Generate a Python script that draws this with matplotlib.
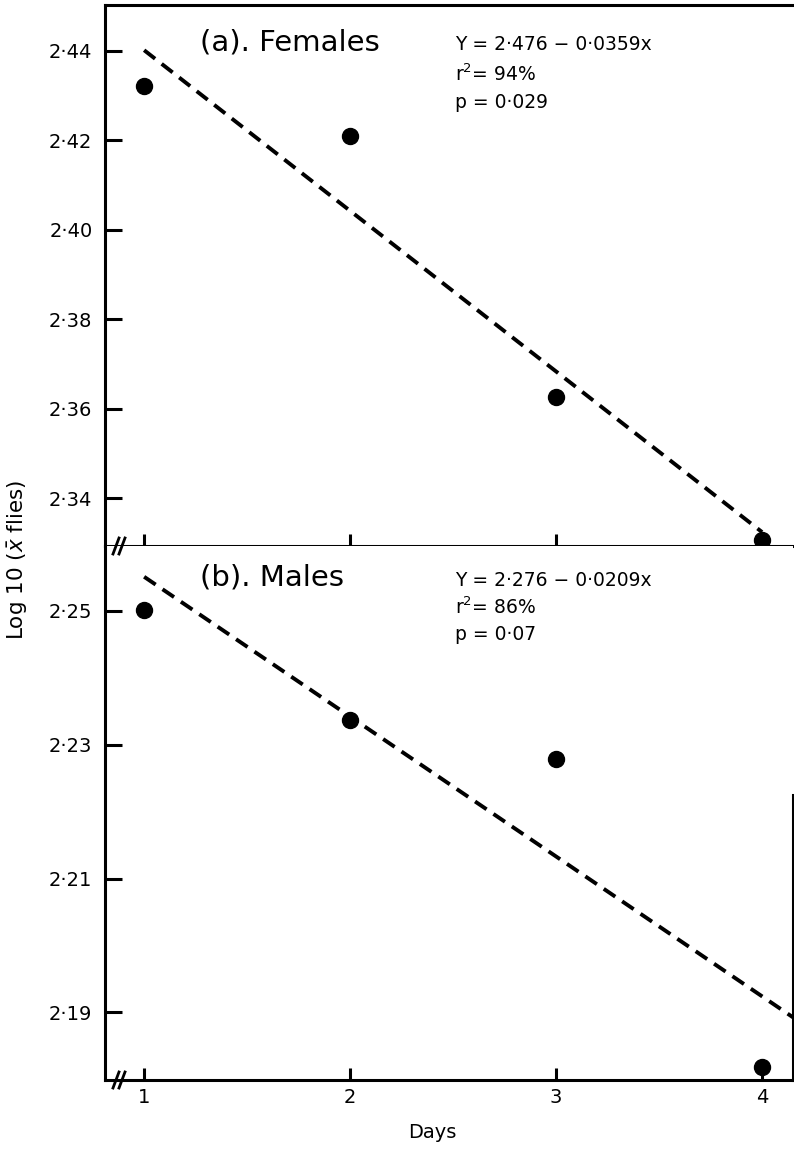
import matplotlib
matplotlib.use("Agg")
import matplotlib.pyplot as plt
from matplotlib.ticker import FuncFormatter, FixedLocator
import numpy as np

plt.rcParams['font.family'] = ['DejaVu Sans']
plt.rcParams['lines.scale_dashes'] = False

# ---- data ----
days = [1, 2, 3, 4]
female_log = [2.432, 2.421, 2.3625, 2.3306]
male_log = [2.2502, 2.2337, 2.2278, 2.1818]

female_intercept, female_slope = 2.476, -0.0359
male_intercept, male_slope = 2.276, -0.0209
female_fit_x = [1, 4]
male_fit_x = [1, 4.15]

female_yticks = [2.34, 2.36, 2.38, 2.40, 2.42, 2.44]
male_yticks = [2.19, 2.21, 2.23, 2.25]

female_text = ["Y = 2·476 − 0·0359x", "r$^2$= 94%", "p = 0·029"]
male_text = ["Y = 2·276 − 0·0209x", "r$^2$= 86%", "p = 0·07"]

W, H = 794, 1157
fig = plt.figure(figsize=(W / 100, H / 100), dpi=100)

left = 105 / W
right = 793 / W
mid = 1 - 546 / H
top = 1 - 5 / H
bot = 1 - 1080 / H

ax1 = fig.add_axes([left, mid, right - left, top - mid])
ax2 = fig.add_axes([left, bot, right - left, mid - bot])

fmt = FuncFormatter(lambda v, p: f"{v:.2f}".replace('.', '·'))
xlim = (0.81, 4.15)

for ax in (ax1, ax2):
    ax.set_xlim(*xlim)
    ax.xaxis.set_major_locator(FixedLocator(days))
    ax.yaxis.set_major_formatter(fmt)
    ax.tick_params(axis='y', direction='in', length=12, width=2.2, pad=9,
                   labelsize=14)
    ax.tick_params(axis='x', direction='in', length=9, width=2.2, pad=6,
                   labelsize=14)
    for s in ax.spines.values():
        s.set_linewidth(2.2)
    ax.spines['right'].set_visible(False)

# top panel
ax1.set_ylim(2.3293, 2.4502)
ax1.yaxis.set_major_locator(FixedLocator(female_yticks))
ax1.tick_params(axis='x', labelbottom=False)
ax1.plot(days, female_log, 'o', color='black', markersize=11.5, zorder=5,
         clip_on=False)
fx = np.array(female_fit_x)
ax1.plot(fx, female_intercept + female_slope * fx, color='black', lw=2.8,
         dashes=(10, 6), clip_on=False)
ax1.text(200 / W, 1 - 43 / H, "(a). Females", transform=fig.transFigure,
         fontsize=21, va='center', ha='left')
for i, t in enumerate(female_text):
    ax1.text(455 / W, 1 - (45 + 29 * i) / H, t, transform=fig.transFigure,
             fontsize=13.5, va='center', ha='left')

# bottom panel
ax2.set_ylim(2.1799, 2.2597)
ax2.yaxis.set_major_locator(FixedLocator(male_yticks))
ax2.spines['top'].set_visible(False)
ax2.spines['right'].set_visible(True)
ax2.spines['right'].set_bounds(2.1799, 2.2225)
ax2.plot(days, male_log, 'o', color='black', markersize=11.5, zorder=5,
         clip_on=False)
mx = np.array(male_fit_x)
ax2.plot(mx, male_intercept + male_slope * mx, color='black', lw=2.8,
         dashes=(10, 6), clip_on=False)
ax2.text(200 / W, 1 - 578 / H, "(b). Males", transform=fig.transFigure,
         fontsize=21, va='center', ha='left')
for i, t in enumerate(male_text):
    ax2.text(455 / W, 1 - (580 + 27 * i) / H, t, transform=fig.transFigure,
             fontsize=13.5, va='center', ha='left')

# axis break marks on the bottom spines
for yb in (546, 1080):
    for dx in (0, 6):
        x0 = (116 + dx) / W
        fig.add_artist(plt.Line2D([x0 - 3 / W, x0 + 3 / W],
                                  [1 - (yb + 8) / H, 1 - (yb - 8) / H],
                                  color='black', lw=2.0))

fig.text(18 / W, 1 - 560 / H, "Log 10 ($\\bar{x}$ flies)", rotation=90,
         fontsize=15.5, va='center', ha='center')
fig.text(432 / W, 1 - 1133 / H, "Days", fontsize=14, va='center',
         ha='center')

fig.savefig("out.png", dpi=100)
